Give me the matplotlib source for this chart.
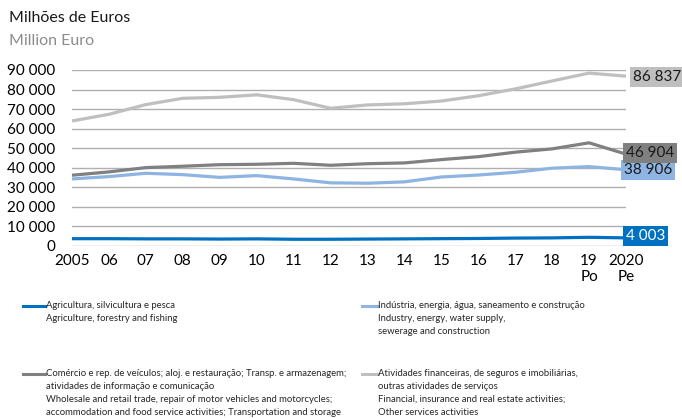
import matplotlib
matplotlib.use("Agg")
import matplotlib.pyplot as plt
from matplotlib.lines import Line2D

plt.rcParams['font.family'] = ['Lato', 'DejaVu Sans']

years = list(range(2005, 2021))
tick_labels = ["2005", "06", "07", "08", "09", "10", "11", "12", "13", "14",
               "15", "16", "17", "18", "19\nPo", "2020\nPe"]

agri = [3600, 3600, 3500, 3500, 3400, 3500, 3300, 3300, 3400, 3500,
        3600, 3700, 3900, 4000, 4300, 4003]
industry = [34200, 35400, 37100, 36400, 35000, 35900, 34200, 32200, 32000, 32700,
            35200, 36200, 37600, 39700, 40500, 38906]
trade = [36100, 37800, 40000, 40700, 41500, 41700, 42200, 41200, 42000, 42400,
         44100, 45600, 47900, 49600, 52700, 46904]
finance = [63900, 67300, 72300, 75500, 76000, 77300, 74800, 70400, 72100, 72700,
           74100, 76800, 80300, 84400, 88400, 86837]

end_labels = ["4 003", "38 906", "46 904", "86 837"]

legend_texts = [
    ["Agricultura, silvicultura e pesca", "Agriculture, forestry and fishing"],
    ["Indústria, energia, água, saneamento e construção",
     "Industry, energy, water supply,", "sewerage and construction"],
    ["Comércio e rep. de veículos; aloj. e restauração; Transp. e armazenagem;",
     "atividades de informação e comunicação",
     "Wholesale and retail trade, repair of motor vehicles and motorcycles;",
     "accommodation and food service activities; Transportation and storage"],
    ["Atividades financeiras, de seguros e imobiliárias,",
     "outras atividades de serviços",
     "Financial, insurance and real estate activities;",
     "Other services activities"],
]

colors = ["#0070C0", "#8DB4E2", "#808080", "#BFBFBF"]
text_colors = ["white", "#1a1a1a", "#1a1a1a", "#1a1a1a"]
series = [agri, industry, trade, finance]

W, H = 682, 418
fig = plt.figure(figsize=(W / 100, H / 100), dpi=100)
ax = fig.add_axes([72 / W, 1 - 245.7 / H, (626 - 72) / W, (245.7 - 70) / H])

ax.set_xlim(2005, 2020)
ax.set_ylim(0, 90000)
yt = list(range(0, 90001, 10000))
ax.set_yticks(yt)
ax.set_yticklabels(["0"] + [f"{v // 1000} 000" for v in yt[1:]])
ax.set_xticks(years)
ax.set_xticklabels(tick_labels, linespacing=1.2)
ax.tick_params(axis='both', length=0, labelsize=11, colors='black')
ax.tick_params(axis='y', pad=12)
ax.tick_params(axis='x', pad=6)
for s in ax.spines.values():
    s.set_visible(False)
ax.grid(axis='y', color='#B0B0B0', lw=1)
ax.set_axisbelow(True)

for vals, c in zip(series, colors):
    ax.plot(years, vals, color=c, lw=2.3, clip_on=False, solid_capstyle='butt', zorder=3)

offsets = [(0, 1.5), (-2, 0), (0, 1.5), (7, -0.5)]
for vals, lab, c, tc, (dx, dy) in zip(series, end_labels, colors, text_colors, offsets):
    ax.annotate(lab, xy=(years[-1], vals[-1]), xytext=(dx * 0.72, dy * 0.72),
                textcoords='offset points', ha='left', va='center', fontsize=11,
                color=tc, annotation_clip=False, zorder=5,
                bbox=dict(boxstyle='square,pad=0.2', fc=c, ec='none'))

fig.text(9 / W, 1 - 18 / H, "Milhões de Euros", fontsize=11.5, color='#1a1a1a',
         ha='left', va='center')
fig.text(9 / W, 1 - 41 / H, "Million Euro", fontsize=11.5, color='#8C8C8C',
         ha='left', va='center')

# legend
leg_pos = [(23, 45, 306), (362, 378, 306), (23, 45, 374), (362, 378, 374)]
for (x0, x1, y0), c, lines in zip(leg_pos, colors, legend_texts):
    fig.add_artist(Line2D([x0 / W, x1 / W], [1 - y0 / H, 1 - y0 / H],
                          color=c, lw=2.2, transform=fig.transFigure))
    for i, t in enumerate(lines):
        fig.text((x1 + 0.5) / W, 1 - (y0 + i * 12.8) / H, t, fontsize=6.85,
                 color='#262626', ha='left', va='center')

fig.savefig("out.png", dpi=100)
